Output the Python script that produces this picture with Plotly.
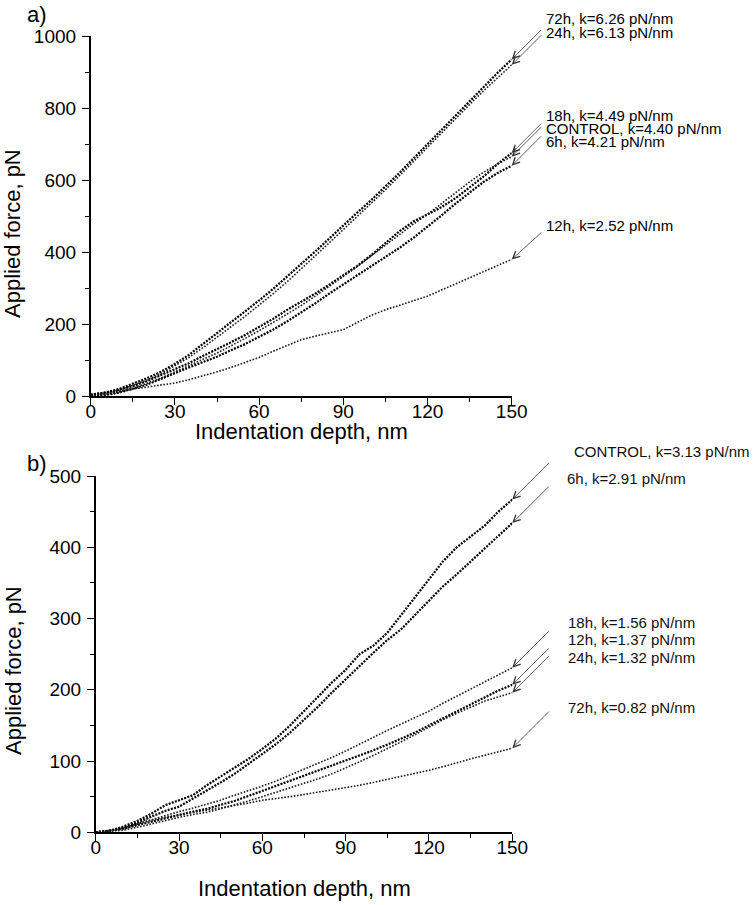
import plotly.graph_objects as go

# ---------------- data ----------------
depth = [0, 5, 10, 15, 20, 25, 30, 35, 40, 45, 50, 55, 60, 65, 70, 75,
         80, 85, 90, 95, 100, 105, 110, 115, 120, 125, 130, 135, 140, 145, 150]

# panel a) applied force, pN
a_72h = [3, 10, 20, 35, 50, 68, 90, 115, 145, 175, 205, 235, 266, 298, 332, 367,
         402, 438, 475, 510, 545, 582, 620, 660, 700, 740, 780, 820, 860, 898, 935]
a_24h = [6, 9, 16, 30, 45, 62, 84, 108, 135, 163, 193, 222, 253, 285, 318, 353,
         390, 426, 463, 499, 535, 573, 612, 652, 692, 732, 772, 810, 848, 885, 920]
a_18h = [5, 10, 18, 28, 42, 58, 75, 92, 112, 130, 150, 170, 192, 215, 240, 262,
         285, 310, 335, 362, 392, 425, 458, 485, 505, 525, 550, 580, 610, 645, 675]
a_ctrl = [0, 5, 12, 22, 35, 50, 68, 85, 102, 120, 140, 160, 182, 205, 228, 252,
          278, 305, 332, 360, 390, 420, 450, 478, 505, 535, 565, 595, 622, 645, 665]
a_6h = [0, 3, 10, 20, 32, 48, 65, 80, 95, 110, 128, 145, 165, 185, 208, 232,
        258, 285, 310, 335, 360, 385, 412, 440, 470, 502, 535, 565, 595, 620, 640]
a_12h = [0, 5, 12, 20, 26, 31, 37, 46, 56, 68, 80, 94, 108, 125, 142, 157,
         167, 176, 185, 205, 225, 240, 252, 265, 278, 295, 312, 330, 348, 365, 380]

# panel b) applied force, pN
b_ctrl = [0, 2, 8, 16, 26, 38, 45, 52, 66, 78, 90, 103, 117, 132, 150, 170,
          190, 210, 228, 250, 262, 280, 305, 330, 355, 380, 400, 415, 430, 450, 467]
b_6h = [0, 2, 6, 13, 22, 30, 36, 47, 58, 70, 82, 96, 110, 124, 140, 158,
        176, 196, 215, 234, 252, 270, 285, 305, 325, 345, 362, 380, 398, 416, 434]
b_18h = [0, 2, 6, 12, 18, 24, 29, 34, 39, 45, 52, 58, 65, 72, 80, 88,
         96, 105, 114, 124, 133, 143, 152, 161, 170, 181, 191, 201, 211, 221, 231]
b_12h = [0, 2, 5, 10, 15, 20, 25, 29, 33, 38, 44, 51, 58, 65, 72, 79,
         86, 93, 100, 108, 115, 123, 131, 140, 150, 160, 170, 180, 190, 199, 207]
b_24h = [0, 1, 3, 7, 12, 17, 21, 25, 28, 33, 38, 44, 50, 56, 62, 68,
         75, 82, 90, 99, 108, 117, 127, 137, 148, 158, 167, 176, 184, 190, 196]
b_72h = [0, 2, 6, 12, 17, 21, 25, 28, 31, 34, 37, 41, 45, 47, 50, 53,
         56, 59, 62, 66, 70, 74, 78, 82, 87, 92, 98, 103, 108, 113, 118]

a_labels = ["72h, k=6.26 pN/nm", "24h, k=6.13 pN/nm", "18h, k=4.49 pN/nm",
            "CONTROL, k=4.40 pN/nm", "6h, k=4.21 pN/nm", "12h, k=2.52 pN/nm"]
b_labels = ["CONTROL, k=3.13 pN/nm", "6h, k=2.91 pN/nm", "18h, k=1.56 pN/nm",
            "12h, k=1.37 pN/nm", "24h, k=1.32 pN/nm", "72h, k=0.82 pN/nm"]

x_ticks = [0, 30, 60, 90, 120, 150]
a_yticks = [0, 200, 400, 600, 800, 1000]
b_yticks = [0, 100, 200, 300, 400, 500]

# ---------------- styling ----------------
W, H = 754, 905
FONT = "Liberation Sans, Arial, sans-serif"
dark = dict(color="black", width=2.2, dash="2px,1.3px")
light = dict(color="#1a1a1a", width=1.6, dash="1.6px,1.6px")

a_series = [(a_72h, dark), (a_24h, light), (a_18h, dark),
            (a_ctrl, light), (a_6h, dark), (a_12h, light)]
b_series = [(b_ctrl, dark), (b_6h, dark), (b_18h, light),
            (b_12h, dark), (b_24h, light), (b_72h, light)]

fig = go.Figure()
for vals, ln in a_series:
    fig.add_trace(go.Scatter(x=depth, y=vals, mode="lines", line=ln,
                             xaxis="x", yaxis="y", showlegend=False))
for vals, ln in b_series:
    fig.add_trace(go.Scatter(x=depth, y=vals, mode="lines", line=ln,
                             xaxis="x2", yaxis="y2", showlegend=False))


def px_x(p):
    return p / W


def px_y(p):
    return 1 - p / H


annotations = []
# arrows to curve ends
for lab, (vals, _) in zip(a_labels, a_series):
    annotations.append(dict(x=depth[-1], y=vals[-1], xref="x", yref="y", text="",
                            showarrow=True, arrowhead=5, arrowsize=1.7, arrowwidth=0.8,
                            arrowcolor="#333", ax=31, ay=-31 if "12h" not in lab else -28))
for lab, (vals, _) in zip(b_labels, b_series):
    annotations.append(dict(x=depth[-1], y=vals[-1], xref="x2", yref="y2", text="",
                            showarrow=True, arrowhead=5, arrowsize=1.7, arrowwidth=0.8,
                            arrowcolor="#333", ax=38, ay=-38))

# label texts (pixel positions of the reference)
a_pos = [(544, 18), (544, 33), (544, 115), (544, 128.5), (544, 142), (544, 226)]
b_pos = [(572, 451), (565, 478), (566, 622), (566, 639.5), (566, 657), (566, 707)]
for lab, (px, py) in zip(a_labels, a_pos):
    annotations.append(dict(x=px_x(px), y=px_y(py), xref="paper", yref="paper",
                            text=lab, showarrow=False, xanchor="left", yanchor="middle",
                            font=dict(size=15, color="black", family=FONT)))
for lab, (px, py) in zip(b_labels, b_pos):
    annotations.append(dict(x=px_x(px), y=px_y(py), xref="paper", yref="paper",
                            text=lab, showarrow=False, xanchor="left", yanchor="middle",
                            font=dict(size=15, color="#111", family=FONT)))

# axis titles and panel letters
for txt, (px, py), ang in [("Applied force, pN", (13, 234), -90),
                           ("Applied force, pN", (13, 671), -90),
                           ("Indentation depth, nm", (301, 432), 0),
                           ("Indentation depth, nm", (304, 888), 0),
                           ("a)", (37, 15), 0), ("b)", (37, 463), 0)]:
    annotations.append(dict(x=px_x(px), y=px_y(py), xref="paper", yref="paper",
                            text=txt, showarrow=False, xanchor="center", yanchor="middle",
                            textangle=ang, font=dict(size=22, color="black", family=FONT)))

axis_common = dict(showline=True, linecolor="black", linewidth=1.5, ticks="outside",
                   ticklen=7, tickwidth=1.3, tickcolor="black", showgrid=False,
                   zeroline=False, mirror=False, automargin=False,
                   tickfont=dict(size=19, color="black", family=FONT))
xminor = dict(ticks="outside", ticklen=4, dtick=15, tick0=0, tickcolor="black", tickwidth=1.2)

fig.update_layout(
    template="none",
    width=W, height=H, margin=dict(l=0, r=0, t=0, b=0, pad=0, autoexpand=False),
    paper_bgcolor="white", plot_bgcolor="white",
    font=dict(family=FONT, color="black"),
    xaxis=dict(domain=[90.7 / W, 511.7 / W], anchor="y", range=[0, 150],
               tickvals=x_ticks, minor=xminor, ticklabelstandoff=-10, **axis_common),
    yaxis=dict(domain=[px_y(396.3), px_y(36)], anchor="x", range=[0, 1000],
               tickvals=a_yticks, minor=dict(ticks="outside", ticklen=4, dtick=100, tick0=0,
                                              tickcolor="black", tickwidth=1.2),
               ticklabelstandoff=2, **axis_common),
    xaxis2=dict(domain=[95.7 / W, 512.3 / W], anchor="y2", range=[0, 150],
                tickvals=x_ticks, minor=xminor, ticklabelstandoff=-10, **axis_common),
    yaxis2=dict(domain=[px_y(832.3), px_y(476)], anchor="x2", range=[0, 500],
                tickvals=b_yticks, minor=dict(ticks="outside", ticklen=4, dtick=50, tick0=0,
                                               tickcolor="black", tickwidth=1.2),
                ticklabelstandoff=2, **axis_common),
    annotations=annotations,
)

fig.write_html("out.html", config={"displayModeBar": False},
               post_script="document.body.style.margin='0';document.body.style.padding='0';")
